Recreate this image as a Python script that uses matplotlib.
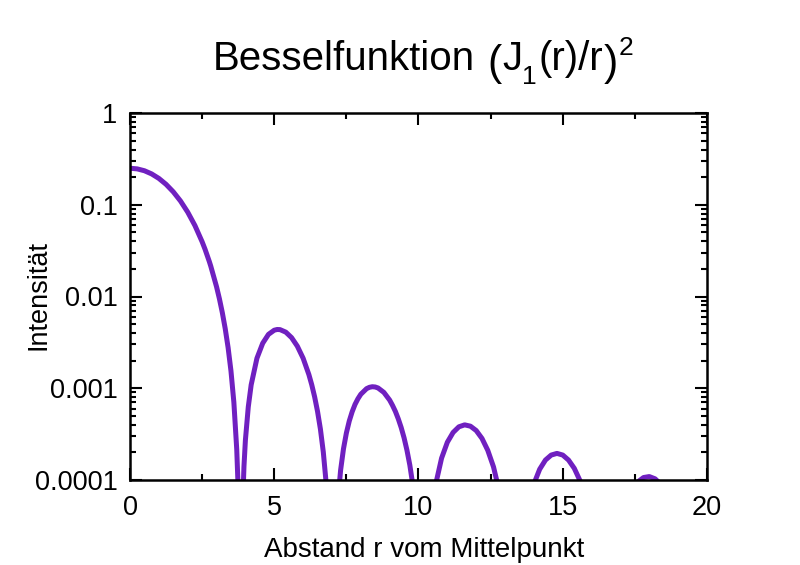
import matplotlib
matplotlib.use('Agg')
import matplotlib.pyplot as plt
from matplotlib.ticker import MultipleLocator, LogLocator, NullFormatter

plt.rcParams['font.family'] = ['Liberation Sans', 'DejaVu Sans']

# values (zeros set to a tiny value, below the axis)
r = [0.0, 0.25, 0.5, 0.75, 1.0, 1.25, 1.5, 1.75, 2.0, 2.25, 2.5, 2.6, 2.75, 2.8,
     3.0, 3.1, 3.2, 3.3, 3.4, 3.5, 3.6, 3.7, 3.75, 3.8, 3.83, 3.9, 3.95, 4.0, 4.1,
     4.2, 4.4, 4.6, 4.8, 5.0, 5.1, 5.2, 5.4, 5.6, 5.8, 6.0, 6.2, 6.3, 6.4, 6.5,
     6.6, 6.7, 6.8, 6.9, 7.02, 7.1, 7.2, 7.3, 7.4, 7.5, 7.6, 7.7, 7.8, 7.9, 8.0,
     8.2, 8.3, 8.4, 8.5, 8.6, 8.8, 9.0, 9.1, 9.2, 9.3, 9.4, 9.5, 9.6, 9.7, 9.8,
     10.0, 10.17, 10.4, 10.6, 10.8, 11.0, 11.2, 11.4, 11.6, 11.8, 12.0, 12.2,
     12.4, 12.6, 12.8, 13.0, 13.2, 13.32, 13.6, 13.8, 14.0, 14.2, 14.4, 14.6,
     14.8, 15.0, 15.2, 15.4, 15.6, 15.8, 16.0, 16.2, 16.47, 16.8, 17.0, 17.2,
     17.4, 17.6, 17.8, 18.0, 18.2, 18.4, 18.6, 18.8, 19.0, 19.2, 19.62, 19.8, 20.0]
intensity = [0.25, 0.246, 0.2348, 0.2168, 0.1937, 0.1669, 0.1383, 0.1099, 0.0831,
             0.0594, 0.0395, 0.0328, 0.024, 0.0214, 0.01277, 0.00942, 0.00667,
             0.00447, 0.00278, 0.001541, 0.000704, 0.000215, 7.98e-5, 1.13e-5,
             1e-9, 4.86e-5, 0.00014, 0.000272, 0.000627, 0.001089, 0.002124,
             0.003095, 0.003867, 0.004293, 0.004369, 0.004356, 0.004089, 0.003564,
             0.002875, 0.002127, 0.001411, 0.00109, 0.000805, 0.00056, 0.000359,
             0.000202, 9.2e-5, 2.56e-5, 1e-9, 1.26e-5, 5.69e-5, 0.000128, 0.000219,
             0.000325, 0.000439, 0.000554, 0.000667, 0.000768, 0.00086, 0.00099,
             0.001024, 0.001039, 0.001032, 0.001006, 0.000901, 0.000743, 0.00065,
             0.000558, 0.000463, 0.000373, 0.000288, 0.000211, 0.000145, 8.97e-5,
             1.89e-5, 1e-9, 2.84e-5, 9.1e-5, 0.000173, 0.000258, 0.00033, 0.00038,
             0.000399, 0.000386, 0.000346, 0.000284, 0.000211, 0.000139, 7.55e-5,
             2.92e-5, 4.17e-6, 1e-9, 1.88e-5, 5.08e-5, 9.07e-5, 0.000131, 0.000165,
             0.000187, 0.000195, 0.000187, 0.000165, 0.000134, 9.8e-5, 6.24e-5,
             3.2e-5, 1.06e-5, 1e-9, 1.4e-5, 3.3e-5, 5.55e-5, 7.75e-5, 9.53e-5,
             0.0001064, 0.000109, 0.000103, 8.98e-5, 7.13e-5, 5.06e-5, 3.11e-5,
             1.47e-5, 1e-9, 2.74e-6, 1.12e-5]

ytick_vals = [0.0001, 0.001, 0.01, 0.1, 1]
ytick_labels = ['0.0001', '0.001', '0.01', '0.1', '1']
xtick_vals = [0, 5, 10, 15, 20]

W, H = 800, 565
fig = plt.figure(figsize=(8, 5.65), dpi=100)
ax = fig.add_axes([130/W, 1-480/H, 577/W, 367/H])

ax.plot(r, intensity, color='#7020c0', lw=3.6, solid_capstyle='butt')

ax.set_yscale('log')
ax.set_xlim(0, 20)
ax.set_ylim(1e-4, 1)
ax.set_xticks(xtick_vals)
ax.set_xticklabels([str(v) for v in xtick_vals])
ax.set_yticks(ytick_vals)
ax.set_yticklabels(ytick_labels)
ax.xaxis.set_minor_locator(MultipleLocator(2.5))
ax.yaxis.set_minor_locator(LogLocator(base=10, subs=range(2, 10)))
ax.yaxis.set_minor_formatter(NullFormatter())

ax.tick_params(which='both', direction='in', top=True, right=True,
               width=1.5, labelsize=19.5, color='black')
ax.tick_params(which='major', length=8.4)
ax.tick_params(which='minor', length=4)
ax.tick_params(axis='x', pad=11)
ax.tick_params(axis='y', pad=9)
for s in ax.spines.values():
    s.set_linewidth(1.8)

fig.text(424/W, 1-557/H, 'Abstand r vom Mittelpunkt', fontsize=20,
         ha='center', va='baseline')
fig.text(38/W, 1-295/H, 'Intensität', fontsize=19.5, rotation=90,
         ha='center', va='center')

# title pieced together like gnuplot enhanced text: (J_1(r)/r)^2
# (text, fontsize, baseline in px from top, gap before in px)
title_parts = [
    ('Besselfunktion', 29, 70, 0),
    ('(', 31, 75, 12),
    ('J', 29, 70, 1),
    ('1', 19, 84, 0),
    ('(r)/r', 29, 70, 1),
    (')', 31, 75, 1),
    ('2', 19, 55, 1),
]
renderer = fig.canvas.get_renderer()
x = 213
for txt, fs, py, gap in title_parts:
    x += gap
    t = fig.text(x/W, 1-py/H, txt, fontsize=fs, ha='left', va='baseline')
    x = t.get_window_extent(renderer).x1

fig.savefig('out.png', dpi=100, facecolor='white')
